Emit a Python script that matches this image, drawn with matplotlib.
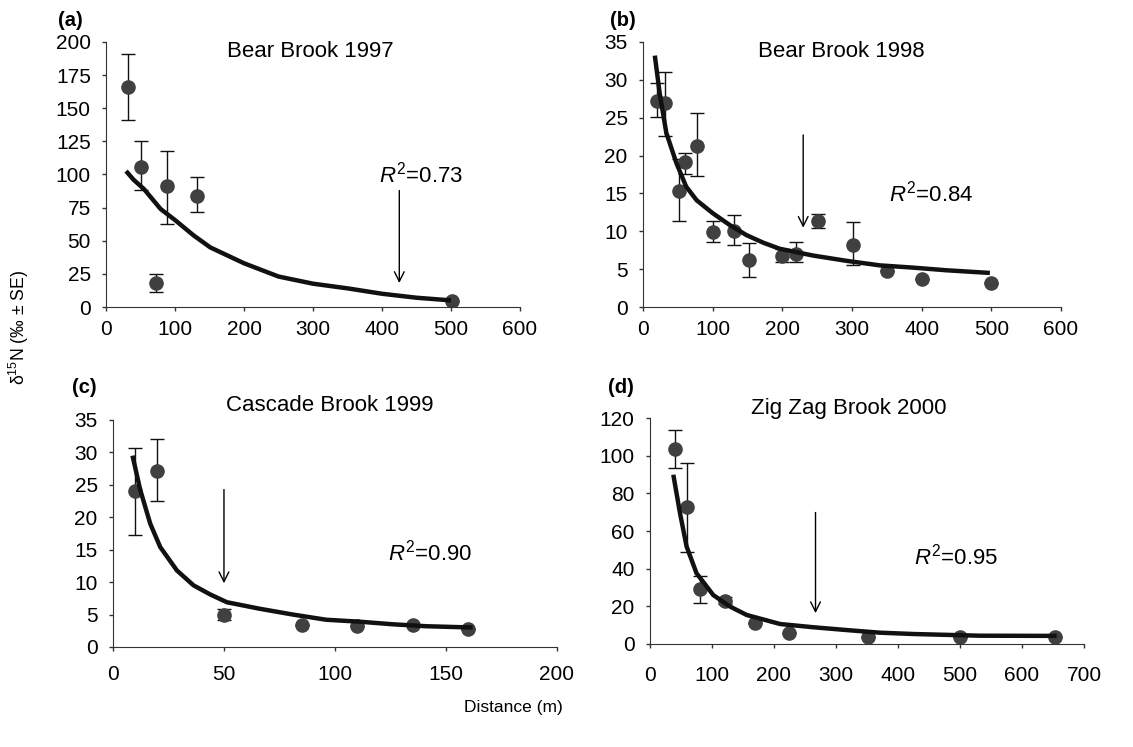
import numpy as np
import matplotlib
matplotlib.use('Agg')
import matplotlib.pyplot as plt

plt.rcParams['font.family'] = ['Liberation Sans', 'DejaVu Sans']
plt.rcParams['mathtext.fontset'] = 'custom'
plt.rcParams['mathtext.rm'] = 'Liberation Sans'
plt.rcParams['mathtext.it'] = 'Liberation Sans:italic'

# ---- (a) Bear Brook 1997 ----
a_x = [32, 51, 72, 89, 132, 501]
a_y = [166, 106, 18, 91, 84, 4.3]
a_lo = [141, 88, 11, 63, 72, 4.3]
a_hi = [191, 125, 25, 118, 98, 4.3]
a_cx = [29, 40, 55, 79, 100, 127, 151, 200, 250, 300, 351, 400, 450, 500]
a_cy = [102.6, 96, 89, 74, 65.6, 54, 45, 33, 23, 17.6, 14, 10, 7, 5]

# ---- (b) Bear Brook 1998 ----
b_x = [20, 31, 51, 61, 78, 100, 130, 152, 200, 220, 251, 301, 351, 400, 500]
b_y = [27.2, 26.9, 15.3, 19.1, 21.3, 9.9, 10.1, 6.2, 6.8, 7.0, 11.3, 8.2, 4.8, 3.7, 3.2]
b_lo = [25.1, 22.6, 11.4, 17.6, 17.3, 8.6, 8.2, 3.9, 6.0, 6.0, 10.4, 5.6, 4.8, 3.7, 3.2]
b_hi = [29.6, 31.0, 19.5, 20.3, 25.6, 11.3, 12.1, 8.5, 7.7, 8.6, 12.3, 11.2, 4.8, 3.7, 3.2]
b_cx = [17, 24, 33.5, 48, 62, 77, 100, 125, 148.5, 172.5, 196, 244, 292, 340, 388, 436, 498]
b_cy = [33.2, 28.2, 23, 19, 15.9, 14.1, 12.4, 10.8, 9.5, 8.5, 7.7, 6.8, 6.1, 5.5, 5.2, 4.85, 4.5]

# ---- (c) Cascade Brook 1999 ----
c_x = [10, 20, 50, 85, 110, 135, 160]
c_y = [24.1, 27.2, 4.9, 3.45, 3.3, 3.45, 2.8]
c_lo = [17.3, 22.5, 4.2, 3.45, 3.3, 3.45, 2.8]
c_hi = [30.7, 32.0, 5.8, 3.45, 3.3, 3.45, 2.8]
c_cx = [8.8, 12.3, 16.8, 21.3, 28.8, 36.3, 43.8, 51.3, 66, 81, 96, 111, 126, 141, 162]
c_cy = [29.5, 24.2, 19, 15.4, 11.8, 9.5, 8.1, 6.9, 5.9, 5.0, 4.2, 3.9, 3.5, 3.2, 3.0]

# ---- (d) Zig Zag Brook 2000 ----
d_x = [41, 60, 80, 121, 170, 224, 352, 500, 653]
d_y = [103.7, 73, 29.4, 22.7, 11.3, 5.7, 3.9, 3.9, 3.9]
d_lo = [93.3, 49, 21.8, 21, 11.3, 5.7, 3.9, 3.9, 3.9]
d_hi = [113.5, 96.1, 36.2, 24.8, 11.3, 5.7, 3.9, 3.9, 3.9]
d_cx = [37.6, 48.4, 59, 75, 102, 129, 156, 210, 263, 317, 371, 425, 532, 656]
d_cy = [89.9, 69.5, 51.8, 37.6, 26, 19.9, 15.4, 10.6, 8.9, 7.4, 6.0, 5.3, 4.4, 4.3]

panels = [
    dict(pos=[0.0936, 0.589, 0.3654, 0.3548], x=a_x, y=a_y, lo=a_lo, hi=a_hi, cx=a_cx, cy=a_cy,
         xlim=600, xstep=100, ylim=200, ystep=25, title='Bear Brook 1997', tpos=(296, 193),
         r2='0.73', rpos=(456, 100), arrow=(425, 90, 16), lab='(a)', lpos=(0.051, 0.973), xpad=6.5),
    dict(pos=[0.5675, 0.589, 0.3689, 0.3548], x=b_x, y=b_y, lo=b_lo, hi=b_hi, cx=b_cx, cy=b_cy,
         xlim=600, xstep=100, ylim=35, ystep=5, title='Bear Brook 1998', tpos=(284, 33.8),
         r2='0.84', rpos=(414, 15), arrow=(230, 23.1, 10.1), lab='(b)', lpos=(0.538, 0.973), xpad=6.5),
    dict(pos=[0.0997, 0.1339, 0.3919, 0.3039], x=c_x, y=c_y, lo=c_lo, hi=c_hi, cx=c_cx, cy=c_cy,
         xlim=200, xstep=50, ylim=35, ystep=5, title='Cascade Brook 1999', tpos=(97.5, 37.3),
         r2='0.90', rpos=(142.7, 14.5), arrow=(50, 24.7, 9.4), lab='(c)', lpos=(0.0636, 0.481), xpad=10),
    dict(pos=[0.5737, 0.1379, 0.383, 0.3025], x=d_x, y=d_y, lo=d_lo, hi=d_hi, cx=d_cx, cy=d_cy,
         xlim=700, xstep=100, ylim=120, ystep=20, title='Zig Zag Brook 2000', tpos=(320, 125),
         r2='0.95', rpos=(493, 46.5), arrow=(267, 71.3, 14.9), lab='(d)', lpos=(0.537, 0.481), xpad=13),
]

fig = plt.figure(figsize=(11.33, 7.47), dpi=100)

for p in panels:
    ax = fig.add_axes(p['pos'])
    y = np.array(p['y'])
    yerr = [y - np.array(p['lo']), np.array(p['hi']) - y]
    ax.errorbar(p['x'], y, yerr=yerr, fmt='o', color='#404040', ecolor='#111111',
                elinewidth=1, capsize=5, capthick=1, markersize=9.5, zorder=2)
    ax.plot(p['cx'], p['cy'], color='#111111', lw=3.2, zorder=3, solid_capstyle='butt')
    ax.set_xlim(0, p['xlim'])
    ax.set_ylim(0, p['ylim'])
    ax.set_xticks(np.arange(0, p['xlim'] + 1, p['xstep']))
    ax.set_yticks(np.arange(0, p['ylim'] + 0.1, p['ystep']))
    ax.spines['top'].set_visible(False)
    ax.spines['right'].set_visible(False)
    for s in ['left', 'bottom']:
        ax.spines[s].set_color('#333333')
    ax.tick_params(labelsize=15, length=3, width=1, color='#333333')
    ax.tick_params(axis='x', pad=p['xpad'])
    ax.tick_params(axis='y', pad=8)
    ax.text(p['tpos'][0], p['tpos'][1], p['title'], fontsize=16, ha='center', va='center',
            clip_on=False)
    ax.text(p['rpos'][0], p['rpos'][1], '$R^2$=' + p['r2'], fontsize=16, ha='center', va='center')
    xa, y0, y1 = p['arrow']
    ax.annotate('', xy=(xa, y1), xytext=(xa, y0),
                arrowprops=dict(arrowstyle='->,head_length=0.7,head_width=0.35', lw=1, color='black'))
    fig.text(p['lpos'][0], p['lpos'][1], p['lab'], fontsize=14.5, fontweight='bold',
             ha='left', va='center')

fig.text(0.017, 0.562, 'δ$^{15}$N (‰ ± SE)', rotation=90, fontsize=12.7, ha='center', va='center')
fig.text(0.453, 0.053, 'Distance (m)', fontsize=12.5, ha='center', va='center')

fig.savefig('out.png', dpi=100)
